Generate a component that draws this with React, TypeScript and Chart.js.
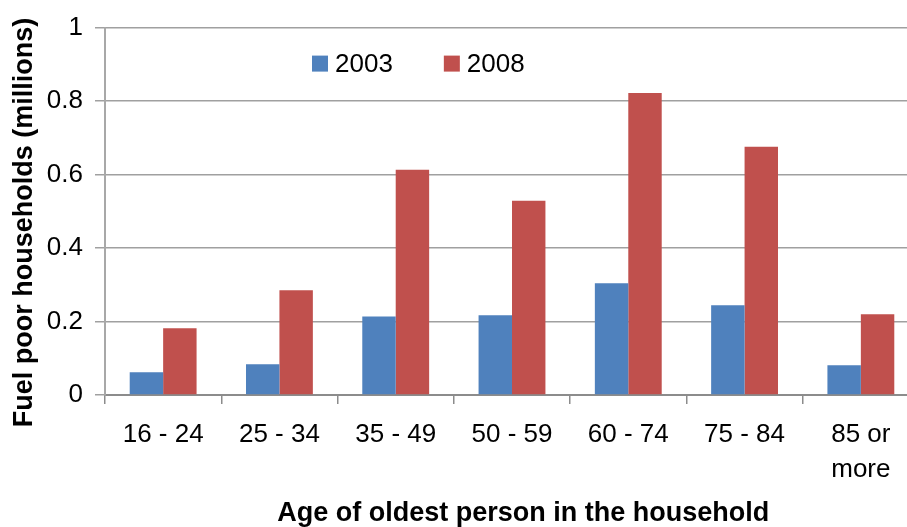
import React, { useEffect, useRef } from "react";
import { Chart, registerables } from "chart.js";

Chart.register(...registerables);

const categories: (string | string[])[] = [
  "16 - 24",
  "25 - 34",
  "35 - 49",
  "50 - 59",
  "60 - 74",
  "75 - 84",
  ["85 or", "more"],
];
const series2003 = [0.062, 0.084, 0.214, 0.217, 0.304, 0.244, 0.081];
const series2008 = [0.182, 0.285, 0.613, 0.529, 0.822, 0.676, 0.22];
const seriesLabels = ["2003", "2008"];
const seriesColors = ["#4F81BD", "#C0504D"];
const yTickValues = [0, 0.2, 0.4, 0.6, 0.8, 1];
const yTitle = "Fuel poor households (millions)";
const xTitle = "Age of oldest person in the household";

const FONT = "'Liberation Sans', Arial, sans-serif";

const insideLegend = {
  id: "insideLegend",
  afterDraw(chart: any) {
    const { ctx, chartArea } = chart;
    const box = 16;
    const size = 26;
    ctx.save();
    ctx.font = `${size}px ${FONT}`;
    ctx.textBaseline = "middle";
    ctx.textAlign = "left";
    let x = chartArea.left + 207;
    const cy = chartArea.top + 36;
    chart.data.datasets.forEach((ds: any) => {
      ctx.fillStyle = ds.backgroundColor;
      ctx.fillRect(x, cy - box / 2, box, box);
      ctx.fillStyle = "#000";
      ctx.fillText(ds.label, x + box + 7, cy + 1);
      x += box + 7 + ctx.measureText(ds.label).width + 51;
    });
    ctx.restore();
  },
};

export default function App() {
  const ref = useRef<HTMLCanvasElement | null>(null);
  useEffect(() => {
    if (!ref.current) return;
    const chart = new Chart(ref.current, {
      type: "bar",
      data: {
        labels: categories as any,
        datasets: [
          {
            label: seriesLabels[0],
            data: series2003,
            backgroundColor: seriesColors[0],
            categoryPercentage: 0.575,
            barPercentage: 1,
          },
          {
            label: seriesLabels[1],
            data: series2008,
            backgroundColor: seriesColors[1],
            categoryPercentage: 0.575,
            barPercentage: 1,
          },
        ],
      },
      options: {
        animation: false,
        responsive: false,
        devicePixelRatio: 1,
        layout: { padding: { top: 26, right: 6, left: 0, bottom: 0 } },
        plugins: {
          legend: { display: false },
          tooltip: { enabled: false },
        },
        scales: {
          x: {
            offset: true,
            grid: {
              display: true,
              offset: true,
              drawOnChartArea: false,
              drawTicks: true,
              tickLength: 9,
              color: "#8c8c8c",
              lineWidth: 1.5,
            },
            border: { display: true, color: "#8c8c8c", width: 2 },
            ticks: {
              color: "#000",
              font: { family: FONT, size: 26, lineHeight: 1.35 },
              padding: 13,
              maxRotation: 0,
              autoSkip: false,
            },
            title: {
              display: true,
              text: "   " + xTitle,
              color: "#000",
              font: { family: FONT, size: 27, weight: "bold", lineHeight: 1.0 },
              padding: { top: 0, bottom: 0 },
            },
            afterFit: (s: any) => {
              s.height = 132;
            },
          },
          y: {
            min: 0,
            max: 1,
            afterBuildTicks: (s: any) => {
              s.ticks = yTickValues.map((v) => ({ value: v }));
            },
            grid: {
              color: "#a0a0a0",
              lineWidth: 1.5,
              tickLength: 10,
            },
            border: { display: true, color: "#a8a8a8", width: 2 },
            ticks: {
              color: "#000",
              font: { family: FONT, size: 26 },
              padding: 12,
              callback: (v: any) => String(v),
            },
            title: {
              display: true,
              text: yTitle + "   ",
              color: "#000",
              font: { family: FONT, size: 27, weight: "bold" },
              padding: { top: 8, bottom: 0 },
            },
            afterFit: (s: any) => {
              s.width = 105;
            },
          },
        },
      },
      plugins: [insideLegend],
    } as any);
    return () => chart.destroy();
  }, []);
  return (
    <div
      style={{
        position: "fixed",
        left: 0,
        top: 0,
        width: 907,
        height: 527,
        overflow: "hidden",
        background: "#fff",
      }}
    >
      <canvas ref={ref} width={925} height={527} style={{ display: "block" }} />
    </div>
  );
}
